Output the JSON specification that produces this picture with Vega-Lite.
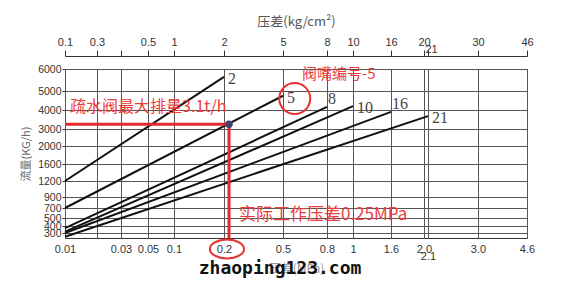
{
  "$schema": "https://vega.github.io/schema/vega-lite/v6.json",
  "width": 462,
  "height": 169,
  "autosize": {"type": "none"},
  "padding": {"left": 65, "top": 69, "right": 34, "bottom": 51},
  "background": "white",
  "config": {
    "view": {"stroke": "#333", "strokeWidth": 1},
    "axis": {"labelFont": "Liberation Sans", "labelFontSize": 11, "labelColor": "#333", "titleFont": "Noto Sans CJK SC", "titleFontWeight": "normal"}
  },
  "datasets": {
    "curves": [
      {"nozzle": "2", "x": 0.01, "y": 1200, "end": 0},
      {"nozzle": "2", "x": 0.2, "y": 5640, "end": 1},
      {"nozzle": "5", "x": 0.01, "y": 700, "end": 0},
      {"nozzle": "5", "x": 0.5, "y": 4750, "end": 1},
      {"nozzle": "8", "x": 0.01, "y": 370, "end": 0},
      {"nozzle": "8", "x": 0.8, "y": 4160, "end": 1},
      {"nozzle": "10", "x": 0.01, "y": 320, "end": 0},
      {"nozzle": "10", "x": 1.0, "y": 4200, "end": 1},
      {"nozzle": "16", "x": 0.01, "y": 300, "end": 0},
      {"nozzle": "16", "x": 1.6, "y": 3900, "end": 1},
      {"nozzle": "21", "x": 0.01, "y": 285, "end": 0},
      {"nozzle": "21", "x": 2.1, "y": 3680, "end": 1}
    ],
    "redpath": [
      {"x": 0.01, "y": 3250, "o": 1},
      {"x": 0.2254, "y": 3250, "o": 2},
      {"x": 0.2254, "y": 280, "o": 3}
    ],
    "notes": [
      {"id": "dot", "x": 0.2254, "y": 3250, "text": ""},
      {"id": "c5", "x": 0.58, "y": 4600, "text": ""},
      {"id": "c02", "x": 0.215, "y": 236, "text": ""},
      {"id": "t1", "x": 0.0116, "y": 4150, "text": "疏水阀最大排量3.1t/h"},
      {"id": "t2", "x": 0.63, "y": 5770, "text": "阀嘴编号-5"},
      {"id": "t3", "x": 0.276, "y": 560, "text": "实际工作压差0.25MPa"},
      {"id": "wm", "x": 0.485, "y": 280, "text": "zhaoping123.com"}
    ]
  },
  "layer": [
    {
      "data": {"name": "curves"},
      "mark": {"type": "line", "color": "#111", "strokeWidth": 2},
      "encoding": {
        "x": {
          "field": "x", "type": "quantitative",
          "scale": {"type": "linear", "domain": [0.01, 0.02, 0.03, 0.05, 0.1, 0.2, 0.5, 0.8, 1, 1.6, 2, 2.1, 3, 4.6], "range": [0, 32, 56, 83, 109, 159, 218, 262, 288, 326, 359, 363, 413, 462], "nice": false, "zero": false},
          "axis": {
            "orient": "bottom",
            "values": [0.01, 0.02, 0.03, 0.05, 0.1, 0.2, 0.5, 0.8, 1, 1.6, 2, 2.1, 3, 4.6],
            "grid": true, "gridColor": "#555", "gridWidth": 1,
            "domain": false, "tickSize": 0,
            "labelPadding": {"condition": {"test": "datum.value == 2.1", "value": 12}, "value": 5},
            "labelExpr": "datum.value == 0.02 ? '' : datum.value == 2 ? '2.0' : datum.value == 3 ? '3.0' : '' + datum.value",
            "labelOverlap": false, "labelBound": false, "labelFlush": false,
            "title": "压差(MPa)", "titleColor": "#999", "titleFontSize": 12, "titlePadding": 2
          }
        },
        "y": {
          "field": "y", "type": "quantitative",
          "scale": {"type": "linear", "domain": [280, 300, 400, 500, 700, 900, 1200, 1600, 2000, 3000, 4000, 5000, 6000], "range": [169, 164, 157, 149, 139, 128, 112, 95, 77, 60, 41, 22, 0], "nice": false, "zero": false},
          "axis": {
            "orient": "left",
            "values": [300, 400, 500, 700, 900, 1200, 1600, 2000, 3000, 4000, 5000, 6000],
            "format": "d",
            "grid": true, "gridColor": "#555", "gridWidth": 1,
            "domain": false, "tickSize": 3, "tickColor": "#333", "labelPadding": 1,
            "labelFontSize": 10.5,
            "labelOverlap": false, "labelFlush": false, "labelBound": false,
            "title": "流量(KG/h)", "titleColor": "#666", "titleFontSize": 11, "titlePadding": 6
          }
        },
        "detail": {"field": "nozzle"}
      }
    },
    {
      "data": {"name": "curves"},
      "transform": [{"filter": "datum.end == 1 && indexof(['2','5','10','21'], datum.nozzle) >= 0"}],
      "mark": {"type": "text", "align": "left", "baseline": "middle", "dx": 4, "dy": 2, "font": "Liberation Serif", "fontSize": 16, "color": "#444"},
      "encoding": {
        "x": {
          "field": "x", "type": "quantitative",
          "scale": {"type": "linear", "domain": [0.01, 0.02, 0.03, 0.05, 0.1, 0.2, 0.5, 0.8, 1, 1.6, 2, 2.1, 3, 4.6], "range": [0, 32, 56, 83, 109, 159, 218, 262, 288, 326, 359, 363, 413, 462], "nice": false, "zero": false},
          "axis": {
            "orient": "top", "offset": 13,
            "values": [0.01, 0.02, 0.03, 0.05, 0.1, 0.2, 0.5, 0.8, 1, 1.6, 2, 2.1, 3, 4.6],
            "grid": false, "domain": true, "domainColor": "#333", "tickSize": 6, "tickColor": "#333",
            "labelPadding": {"condition": {"test": "datum.value == 2.1", "value": -4}, "value": 3},
            "labelOffset": {"condition": {"test": "datum.value == 2.1", "value": 3}, "value": 0},
            "labelExpr": "datum.value == 0.01 ? '0.1' : datum.value == 0.02 ? '0.3' : datum.value == 0.03 ? '' : datum.value == 0.05 ? '0.5' : datum.value == 0.1 ? '1' : datum.value == 0.2 ? '2' : datum.value == 0.5 ? '5' : datum.value == 0.8 ? '8' : datum.value == 1 ? '10' : datum.value == 1.6 ? '16' : datum.value == 2 ? '20' : datum.value == 2.1 ? '21' : datum.value == 3 ? '30' : '46'",
            "labelOverlap": false, "labelBound": false, "labelFlush": false,
            "title": "压差(kg/cm²)", "titleColor": "#555", "titleFontSize": 13, "titlePadding": 8
          }
        },
        "y": {
          "field": "y", "type": "quantitative",
          "scale": {"type": "linear", "domain": [280, 300, 400, 500, 700, 900, 1200, 1600, 2000, 3000, 4000, 5000, 6000], "range": [169, 164, 157, 149, 139, 128, 112, 95, 77, 60, 41, 22, 0], "nice": false, "zero": false},
          "axis": null
        },
        "text": {"field": "nozzle"}
      }
    },
    {
      "data": {"name": "curves"},
      "transform": [{"filter": "datum.end == 1 && indexof(['8','16'], datum.nozzle) >= 0"}],
      "mark": {"type": "text", "align": "left", "baseline": "middle", "dx": 1, "dy": -8, "font": "Liberation Serif", "fontSize": 16, "color": "#444"},
      "encoding": {
        "x": {"field": "x", "type": "quantitative", "axis": null},
        "y": {"field": "y", "type": "quantitative", "axis": null},
        "text": {"field": "nozzle"}
      }
    },
    {
      "data": {"name": "redpath"},
      "mark": {"type": "line", "color": "#e32b2b", "strokeWidth": 3},
      "encoding": {
        "x": {"field": "x", "type": "quantitative", "axis": null},
        "y": {"field": "y", "type": "quantitative", "axis": null},
        "order": {"field": "o"}
      }
    },
    {
      "data": {"name": "notes"},
      "transform": [{"filter": "datum.id == 'dot'"}],
      "mark": {"type": "point", "shape": "circle", "filled": true, "size": 55, "color": "#45406e", "opacity": 1},
      "encoding": {
        "x": {"field": "x", "type": "quantitative", "axis": null},
        "y": {"field": "y", "type": "quantitative", "axis": null}
      }
    },
    {
      "data": {"name": "notes"},
      "transform": [{"filter": "datum.id == 'c5'"}],
      "mark": {"type": "point", "shape": "circle", "filled": false, "size": 961, "color": "#e8322f", "strokeWidth": 2, "opacity": 1},
      "encoding": {
        "x": {"field": "x", "type": "quantitative", "axis": null},
        "y": {"field": "y", "type": "quantitative", "axis": null}
      }
    },
    {
      "data": {"name": "notes"},
      "transform": [{"filter": "datum.id == 'c02'"}],
      "mark": {"type": "point", "shape": "M -1.8 0 A 1.8 1 0 1 0 1.8 0 A 1.8 1 0 1 0 -1.8 0 Z", "filled": false, "size": 361, "color": "#e8322f", "strokeWidth": 2, "opacity": 1},
      "encoding": {
        "x": {"field": "x", "type": "quantitative", "axis": null},
        "y": {"field": "y", "type": "quantitative", "axis": null}
      }
    },
    {
      "data": {"name": "notes"},
      "transform": [{"filter": "datum.id == 't1'"}],
      "mark": {"type": "text", "align": "left", "baseline": "middle", "font": "Noto Sans CJK SC", "fontSize": 16, "color": "#ee3b3b"},
      "encoding": {
        "x": {"field": "x", "type": "quantitative", "axis": null},
        "y": {"field": "y", "type": "quantitative", "axis": null},
        "text": {"field": "text"}
      }
    },
    {
      "data": {"name": "notes"},
      "transform": [{"filter": "datum.id == 't2'"}],
      "mark": {"type": "text", "align": "left", "baseline": "middle", "font": "Noto Sans CJK SC", "fontSize": 15, "color": "#ee3b3b"},
      "encoding": {
        "x": {"field": "x", "type": "quantitative", "axis": null},
        "y": {"field": "y", "type": "quantitative", "axis": null},
        "text": {"field": "text"}
      }
    },
    {
      "data": {"name": "notes"},
      "transform": [{"filter": "datum.id == 't3'"}],
      "mark": {"type": "text", "align": "left", "baseline": "middle", "font": "Noto Sans CJK SC", "fontSize": 17, "color": "#ee3b3b"},
      "encoding": {
        "x": {"field": "x", "type": "quantitative", "axis": null},
        "y": {"field": "y", "type": "quantitative", "axis": null},
        "text": {"field": "text"}
      }
    },
    {
      "data": {"name": "notes"},
      "transform": [{"filter": "datum.id == 'wm'"}],
      "mark": {"type": "text", "align": "center", "baseline": "middle", "dy": 31, "font": "DejaVu Sans Mono", "fontWeight": "bold", "fontSize": 18, "color": "#111"},
      "encoding": {
        "x": {"field": "x", "type": "quantitative", "axis": null},
        "y": {"field": "y", "type": "quantitative", "axis": null},
        "text": {"field": "text"}
      }
    }
  ],
  "resolve": {"axis": {"x": "independent", "y": "independent"}}
}
